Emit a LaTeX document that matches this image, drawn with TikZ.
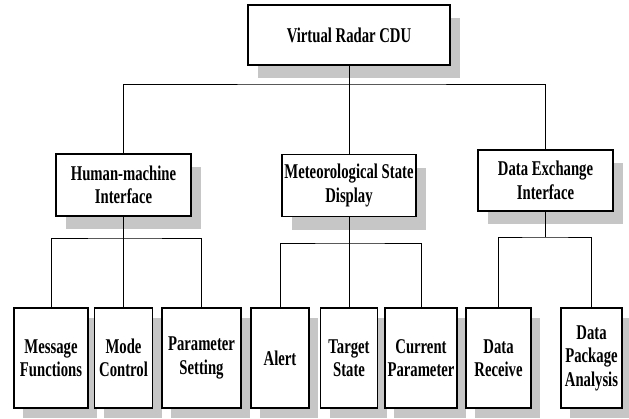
\documentclass[tikz,border=0pt]{standalone}
\usepackage{fontspec}
\setmainfont{Liberation Serif}[FakeStretch=0.7]
\usetikzlibrary{shadows}

\begin{document}
\begin{tikzpicture}[x=1pt,y=-1pt]
    \tikzstyle{block} = [draw, rectangle, line width=1.2pt, fill=white, align=center, inner sep=0pt, font=\fontsize{21}{23.5}\selectfont\bfseries];
    \tikzstyle{bigbox} = [block, minimum width=135pt, minimum height=62pt, drop shadow={shadow xshift=10pt, shadow yshift=-13pt, fill=gray!45, opacity=1}];
    \tikzstyle{smallbox} = [block, minimum height=100pt, drop shadow={shadow xshift=9pt, shadow yshift=-10pt, fill=gray!45, opacity=1}];
    \tikzstyle{line} = [draw, line width=1pt];
    \useasboundingbox (0,0) rectangle (629,418);

    \node[bigbox, minimum width=202pt, minimum height=60pt] (cdu) at (349,35) {Virtual Radar CDU};
    \node[bigbox] (hmi) at (123.5,185) {Human-machine\\Interface};
    \node[bigbox, minimum width=134pt] (msd) at (349,185.5) {Meteorological State\\Display};
    \node[bigbox, minimum width=135pt, minimum height=61pt] (dei) at (545.5,180.5) {Data Exchange\\Interface};

    \node[smallbox, minimum width=74pt] (msg) at (51,358) {Message\\Functions};
    \node[smallbox, minimum width=58pt] (mode) at (123.5,358) {Mode\\Control};
    \node[smallbox, minimum width=79pt] (par) at (201.5,358) {Parameter\\Setting};
    \node[smallbox, minimum width=58pt] (alert) at (280,358) {Alert};
    \node[smallbox, minimum width=57pt] (tgt) at (349,358) {Target\\State};
    \node[smallbox, minimum width=72pt] (cur) at (421,358) {Current\\Parameter};
    \node[smallbox, minimum width=65pt] (rcv) at (498.5,358) {Data\\Receive};
    \node[smallbox, minimum width=61pt] (pkg) at (591.5,358) {Data\\Package\\Analysis};

    \coordinate (top bus) at (349,84);
    \coordinate (hmi bus) at (123.5,238);
    \coordinate (msd bus) at (349,243);
    \coordinate (dei bus) at (545.5,237);

    \path[line] (cdu.south) -- (top bus);
    \path[line] (hmi.north) |- (top bus) -| (dei.north);
    \path[line] (top bus) -- (msd.north);

    \path[line] (hmi.south) -- (hmi bus);
    \path[line] (msg.north) |- (hmi bus) -| (par.north);
    \path[line] (hmi bus) -- (mode.north);

    \path[line] (msd.south) -- (msd bus);
    \path[line] (alert.north) |- (msd bus) -| (cur.north);
    \path[line] (msd bus) -- (tgt.north);

    \path[line] (dei.south) -- (dei bus);
    \path[line] (rcv.north) |- (dei bus) -| (pkg.north);
\end{tikzpicture}
\end{document}
